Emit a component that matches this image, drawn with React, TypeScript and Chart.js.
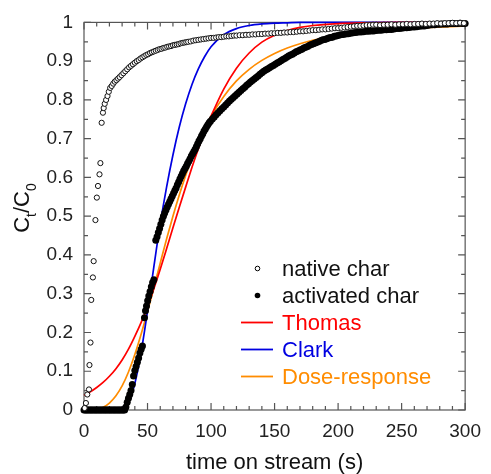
import React, { useEffect, useRef } from "react";
import { Chart, registerables } from "chart.js";
Chart.register(...registerables);

const FONT = '"Liberation Sans", Arial, sans-serif';

// Open circles: native char [time (s), Ct/C0]
const nativeChar: [number, number][] = [
  [0.5,0.005],[1.5,0.018],[2.6,0.04],[3.9,0.053],[4.3,0.116],[5.1,0.174],[5.7,0.284],[7.0,0.342],[7.6,0.384],[9.0,0.49],
  [10.1,0.548],[11.0,0.578],[12.2,0.608],[12.9,0.637],[13.9,0.741],[14.9,0.767],[15.5,0.779],[16.3,0.79],[17.4,0.8],[18.5,0.81],
  [19.5,0.821],[20.6,0.831],[21.8,0.836],[23,0.842],[24.2,0.847],[25.5,0.851],[26.8,0.855],[28,0.859],[29.5,0.864],[31,0.869],
  [32.5,0.874],[34,0.879],[35.5,0.884],[37,0.888],[38.5,0.892],[40,0.896],[41.5,0.9],[43,0.903],[44.5,0.907],[46,0.91],
  [47.5,0.913],[49,0.916],[50.5,0.918],[52,0.921],[53.5,0.923],[55,0.925],[56.5,0.927],[58,0.929],[59.5,0.931],[61,0.932],
  [62.5,0.934],[64,0.935],[65.5,0.937],[67,0.938],[68.5,0.939],[70,0.941],[71.5,0.942],[73,0.943],[74.5,0.944],[76,0.946],
  [77.5,0.947],[79,0.948],[80.5,0.949],[82,0.95],[84,0.951],[86,0.953],[88,0.954],[90,0.955],[92,0.956],[94,0.957],
  [96,0.958],[98,0.959],[100,0.96],[102,0.96],[104,0.961],[106,0.962],[108,0.962],[110,0.963],[112,0.964],[114,0.964],
  [116,0.965],[118,0.966],[120,0.966],[122.5,0.967],[125,0.967],[127.5,0.968],[130,0.968],[132.5,0.969],[135,0.969],[137.5,0.97],
  [140,0.97],[142.5,0.971],[145,0.971],[147.5,0.972],[150,0.972],[152.5,0.973],[155,0.973],[157.5,0.974],[160,0.974],[162.5,0.975],
  [165,0.975],[167.5,0.976],[170,0.977],[172.5,0.977],[175,0.978],[177.5,0.979],[180,0.98],[182.5,0.98],[185,0.981],[187.5,0.982],
  [190,0.982],[192.5,0.983],[195,0.984],[197.5,0.985],[200,0.985],[202.5,0.986],[205,0.987],[207.5,0.988],[210,0.989],[212.5,0.99],
  [215,0.991],[217.5,0.991],[220,0.992],[222.5,0.993],[225,0.993],[227.5,0.994],[230,0.994],[233,0.993],[236,0.994],[239,0.994],
  [242,0.995],[245,0.994],[248,0.995],[251,0.995],[254,0.996],[257,0.995],[260,0.996],[263,0.996],[266,0.997],[269,0.996],
  [272,0.997],[275,0.997],[278,0.998],[281,0.997],[284,0.998],[287,0.998],[290,0.999],[293,0.998],[296,0.999],[299,0.998],
];

// Filled dots: activated char [time (s), Ct/C0]
const activatedChar: [number, number][] = [
  [0,0],[1,0],[2,0],[3,0],[4,0],[5,0],[6,0],[7,0],[8,0],[9,0],[10,0],[11,0],[12,0],[13,0],[14,0],[15,0],[16,0],
  [17,0],[18,0],[19,0],[20,0],[21,0],[22,0],[23,0],[24,0],[25,0],[26,0],[27,0],[28,0],[29,0],[30,0],[31,0],[32,0],
  [33,0.008],[34,0.02],[35,0.03],[36,0.04],[37,0.05],[38,0.066],[39,0.088],[40,0.102],[41,0.112],[42,0.123],[43,0.134],
  [44,0.147],[45,0.157],[46,0.165],
  [47.6,0.238],[48.4,0.256],[49.2,0.268],[50.1,0.282],[51,0.294],[52,0.306],[53,0.318],[54,0.329],[55,0.336],
  [56.5,0.438],[57.5,0.447],[58.5,0.458],[59.5,0.468],[60.5,0.479],[61.5,0.49],[62.5,0.5],[63.5,0.508],[64.5,0.516],
  [65.5,0.524],[66.5,0.531],[67.5,0.538],[68.5,0.545],[69.5,0.552],[70.5,0.559],[71.5,0.566],[72.5,0.573],[73.5,0.581],
  [74.5,0.588],[75.5,0.596],[76.5,0.603],[77.5,0.61],[78.5,0.617],[79.5,0.623],[80.5,0.629],[81.5,0.636],[82.5,0.642],
  [83.5,0.648],[84.5,0.655],[85.5,0.661],[86.5,0.667],[87.5,0.673],[88.5,0.68],[89.5,0.687],[90.5,0.694],[91.5,0.7],
  [92.5,0.707],[93.5,0.713],[94.5,0.72],[95.5,0.725],[96.5,0.731],[97.5,0.736],[98.5,0.741],[99.5,0.745],[101,0.751],
  [102.5,0.756],[104,0.762],[105.5,0.767],[107,0.772],[108.5,0.777],[110,0.782],[111.5,0.787],[113,0.792],[114.5,0.797],
  [116,0.802],[117.5,0.806],[119,0.811],[120.5,0.815],[122,0.82],[123.5,0.824],[125,0.829],[126.5,0.833],[128,0.838],
  [129.5,0.842],[131,0.846],[132.5,0.85],[134,0.854],[135.5,0.858],[137,0.862],[138.5,0.866],[140,0.87],[141.5,0.874],
  [143,0.877],[144.5,0.88],[146,0.883],[147.5,0.886],[149,0.889],[150.5,0.892],[152,0.895],[153.5,0.898],[155,0.901],
  [156.5,0.904],[158,0.907],[159.5,0.91],[161,0.913],[162.5,0.916],[164,0.918],[165.5,0.921],[167,0.924],[168.5,0.926],
  [170,0.929],[171.5,0.931],[173,0.934],[174.5,0.936],[176,0.938],[177.5,0.941],[179,0.943],[180.5,0.945],[182,0.947],
  [183.5,0.949],[185,0.951],[186.5,0.953],[188,0.955],[189.5,0.956],[191,0.958],[192.5,0.96],[194,0.961],[195.5,0.962],
  [197,0.964],[198.5,0.965],[200,0.966],[202,0.968],[204,0.969],[206,0.97],[208,0.971],[210,0.972],[212,0.973],[214,0.974],
  [216,0.975],[218,0.975],[220,0.976],[222,0.977],[224,0.977],[226,0.978],[228,0.978],[230,0.979],[232,0.98],[234,0.98],
  [236,0.981],[238,0.981],[240,0.982],[242,0.982],[244,0.983],[246,0.984],[248,0.984],[250,0.985],[252,0.986],[254,0.986],
  [256,0.987],[258,0.988],[260,0.988],[262,0.989],[264,0.99],[266,0.991],[268,0.991],[270,0.992],[272,0.993],[274,0.994],
  [276,0.994],[278,0.995],[280,0.995],[282,0.996],[284,0.996],[286,0.996],[288,0.997],[290,0.997],[292,0.997],[294,0.997],
  [296,0.998],[298,0.997],[300,0.997],
];

// Model curves sampled at these times
const fitTimes = [0,5,10,15,20,25,30,35,40,45,50,55,60,65,70,75,80,85,90,95,100,110,120,130,140,150,160,170,180,200,220,250,300];
const thomas = [0.038,0.047,0.058,0.071,0.087,0.106,0.129,0.157,0.19,0.226,0.267,0.313,0.363,0.416,0.47,0.523,0.575,0.626,0.674,0.718,0.758,0.828,0.882,0.921,0.949,0.967,0.979,0.987,0.992,0.997,0.999,1,1];
const clark = [0,0,0,0,0,0.001,0.006,0.02,0.068,0.15,0.255,0.37,0.48,0.575,0.658,0.73,0.79,0.84,0.88,0.912,0.937,0.968,0.984,0.992,0.996,0.998,0.999,1,1,1,1,1,1];
const doseResponse = [0,0.0002,0.002,0.007,0.018,0.036,0.062,0.098,0.143,0.196,0.254,0.316,0.379,0.441,0.5,0.555,0.605,0.65,0.691,0.727,0.758,0.809,0.849,0.879,0.902,0.92,0.934,0.945,0.954,0.966,0.975,0.983,0.991];

const xTickStep = 50;
const yTickStep = 0.1;

const RED = "rgb(255,0,0)";
const BLUE = "rgb(0,0,225)";
const ORANGE = "rgb(255,140,0)";

const legendItems = [
  { label: "native char", kind: "open", color: "#000" },
  { label: "activated char", kind: "dot", color: "#000" },
  { label: "Thomas", kind: "line", color: RED },
  { label: "Clark", kind: "line", color: BLUE },
  { label: "Dose-response", kind: "line", color: ORANGE },
];

const framePlugin = {
  id: "frame",
  beforeDatasetsDraw(chart: any) {
    const { ctx, chartArea: a, scales } = chart;
    const xs = scales.x, ys = scales.y;
    ctx.save();
    ctx.strokeStyle = "#555";
    ctx.lineWidth = 1.2;
    ctx.strokeRect(a.left, a.top, a.right - a.left, a.bottom - a.top);
    ctx.beginPath();
    for (let v = 0; v <= 300; v += 10) {
      const px = xs.getPixelForValue(v);
      const len = v % 50 === 0 ? 7 : 4;
      ctx.moveTo(px, a.bottom); ctx.lineTo(px, a.bottom - len);
      ctx.moveTo(px, a.top); ctx.lineTo(px, a.top + len);
    }
    for (let i = 0; i <= 20; i++) {
      const v = i * 0.05;
      const py = ys.getPixelForValue(v);
      const len = i % 2 === 0 ? 7 : 4;
      ctx.moveTo(a.left, py); ctx.lineTo(a.left + len, py);
      ctx.moveTo(a.right, py); ctx.lineTo(a.right - len, py);
    }
    ctx.stroke();
    ctx.restore();
  },
  afterDraw(chart: any) {
    const { ctx, chartArea: a } = chart;
    ctx.save();
    // x title
    ctx.fillStyle = "#111";
    ctx.font = `22px ${FONT}`;
    ctx.textAlign = "center";
    ctx.textBaseline = "alphabetic";
    ctx.fillText("time on stream (s)", (a.left + a.right) / 2, 469);
    // y title with subscripts
    ctx.save();
    ctx.translate(29, 208);
    ctx.rotate(-Math.PI / 2);
    const big = `22px ${FONT}`, small = `14px ${FONT}`;
    const parts: [string, boolean][] = [["C", false], ["t", true], ["/C", false], ["0", true]];
    let total = 0;
    for (const [t, s] of parts) { ctx.font = s ? small : big; total += ctx.measureText(t).width; }
    let x = -total / 2;
    ctx.textAlign = "left";
    for (const [t, s] of parts) {
      ctx.font = s ? small : big;
      ctx.fillText(t, x, s ? 7 : 0);
      x += ctx.measureText(t).width;
    }
    ctx.restore();
    // legend
    ctx.font = `22px ${FONT}`;
    ctx.textAlign = "left";
    legendItems.forEach((it, i) => {
      const base = 276 + i * 27;
      const my = base - 7.5;
      if (it.kind === "open") {
        ctx.beginPath(); ctx.arc(257.5, my, 2.3, 0, Math.PI * 2);
        ctx.fillStyle = "#fff"; ctx.fill();
        ctx.strokeStyle = "#000"; ctx.lineWidth = 1; ctx.stroke();
      } else if (it.kind === "dot") {
        ctx.beginPath(); ctx.arc(257.5, my, 2.8, 0, Math.PI * 2);
        ctx.fillStyle = "#000"; ctx.fill();
      } else {
        ctx.beginPath(); ctx.moveTo(241, my); ctx.lineTo(273, my);
        ctx.strokeStyle = it.color; ctx.lineWidth = 1.8; ctx.stroke();
      }
      ctx.fillStyle = it.color === "#000" ? "#111" : it.color;
      ctx.fillText(it.label, 282, base);
    });
    ctx.restore();
  },
};

export default function App() {
  const ref = useRef<HTMLCanvasElement>(null);
  useEffect(() => {
    document.body.style.margin = "0";
    const lineDs = (label: string, ys: number[], color: string) => ({
      label,
      data: fitTimes.map((t, i) => ({ x: t, y: ys[i] })),
      showLine: true,
      borderColor: color,
      borderWidth: 1.7,
      pointRadius: 0,
      cubicInterpolationMode: "monotone" as const,
      clip: false as const,
    });
    const chart = new Chart(ref.current!, {
      type: "scatter",
      data: {
        datasets: [
          {
            label: "native char",
            data: nativeChar.map(([x, y]) => ({ x, y })),
            pointRadius: 2.6,
            pointBorderWidth: 1,
            pointBackgroundColor: "#fff",
            pointBorderColor: "#111",
            clip: false as const,
          },
          {
            label: "activated char",
            data: activatedChar.map(([x, y]) => ({ x, y })),
            pointRadius: 3.5,
            pointBorderWidth: 0,
            pointBackgroundColor: "#000",
            pointBorderColor: "#000",
            clip: false as const,
          },
          lineDs("Thomas", thomas, RED),
          lineDs("Clark", clark, BLUE),
          lineDs("Dose-response", doseResponse, ORANGE),
        ] as any,
      },
      options: {
        animation: false,
        responsive: false,
        events: [],
        layout: { padding: { top: 22, right: 18, left: 0, bottom: 0 } },
        plugins: { legend: { display: false }, tooltip: { enabled: false } },
        scales: {
          x: {
            type: "linear",
            min: 0,
            max: 300,
            ticks: { stepSize: xTickStep, font: { family: FONT, size: 19 }, color: "#222", padding: 10, maxRotation: 0 },
            grid: { display: false, drawTicks: false },
            border: { display: false },
            afterFit: (s: any) => { s.height = 64; },
          },
          y: {
            type: "linear",
            min: 0,
            max: 1,
            ticks: {
              stepSize: yTickStep,
              font: { family: FONT, size: 19 },
              color: "#222",
              padding: 11,
              callback: (v: any) => String(Math.round(Number(v) * 10) / 10),
            },
            grid: { display: false, drawTicks: false },
            border: { display: false },
            afterFit: (s: any) => { s.width = 84; },
          },
        },
      } as any,
      plugins: [framePlugin],
    });
    return () => chart.destroy();
  }, []);
  return (
    <div style={{ width: 491, height: 474 }}>
      <canvas ref={ref} width={491} height={474} style={{ display: "block" }} />
    </div>
  );
}
